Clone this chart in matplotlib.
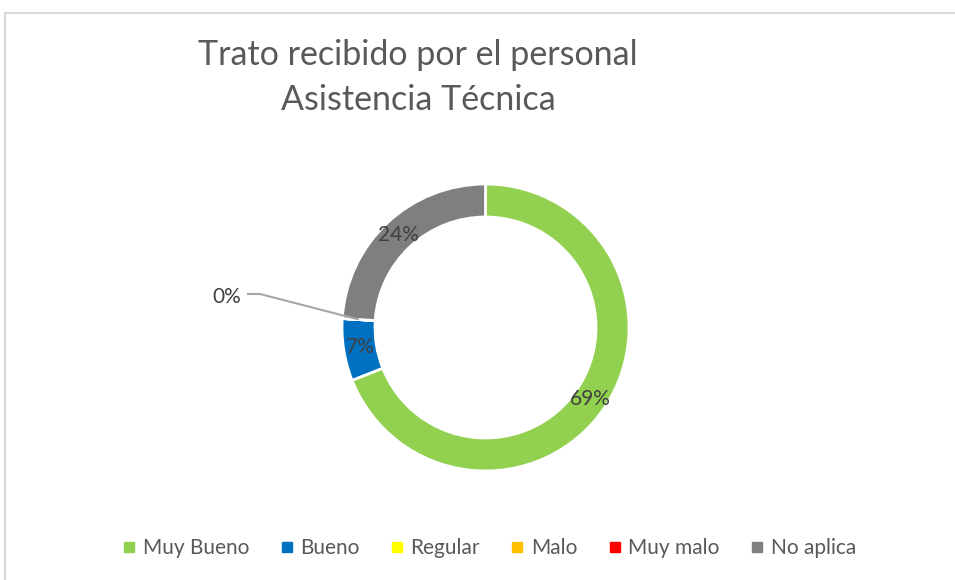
import matplotlib
matplotlib.use("Agg")
import matplotlib.pyplot as plt
from matplotlib.lines import Line2D
import numpy as np

categories = ["Muy Bueno", "Bueno", "Regular", "Malo", "Muy malo", "No aplica"]
values = [69, 7, 0, 0, 0, 24]
colors = ["#92D050", "#0070C0", "#FFFF00", "#FFC000", "#FF0000", "#7F7F7F"]
title_lines = ["Trato recibido por el personal", "Asistencia Técnica"]

plt.rcParams['font.family'] = ['Lato', 'DejaVu Sans']

W, H = 955, 580
fig = plt.figure(figsize=(W / 100, H / 100), dpi=100)
fig.patch.set_facecolor("white")

# frame (top and left edges visible)
fig.add_artist(Line2D([4.5 / W, 4.5 / W], [0, 1 - 12.5 / H], transform=fig.transFigure,
                      color="#D9D9D9", lw=1.5))
fig.add_artist(Line2D([4.5 / W, 1], [1 - 12.5 / H, 1 - 12.5 / H], transform=fig.transFigure,
                      color="#D9D9D9", lw=1.5))

cx, cy, R = 485.5, 327.5, 143.5
ax = fig.add_axes([(cx - R) / W, (H - cy - R) / H, 2 * R / W, 2 * R / H])
ring = 0.23
wedges, _ = ax.pie(values, colors=colors, startangle=90, counterclock=False, radius=1,
                   wedgeprops=dict(width=ring, edgecolor="white", linewidth=2))
ax.set_xlim(-1, 1)
ax.set_ylim(-1, 1)
ax.set_aspect("equal")
ax.axis("off")

rmid = 1 - ring / 2
zero_done = False
for w, v in zip(wedges, values):
    ang = np.deg2rad((w.theta1 + w.theta2) / 2)
    x, y = rmid * np.cos(ang), rmid * np.sin(ang)
    if v > 0:
        ax.text(x, y, f"{v}%", ha="center", va="center", fontsize=15, color="#404040")
    elif not zero_done:
        zero_done = True
        # leader line
        ly = (cy - 294) / R
        x0 = (247 - cx) / R
        x1 = (260 - cx) / R
        ax.plot([x0, x1, x], [ly, ly, y], color="#A6A6A6", lw=1.5, clip_on=False,
                solid_capstyle="butt")
        ax.text((241 - cx) / R, (cy - 297) / R, f"{v}%", ha="right", va="center",
                fontsize=15, color="#404040", clip_on=False)

# title
fig.text(418 / W, 1 - 55 / H, title_lines[0], ha="center", va="center", fontsize=24.5, color="#595959")
fig.text(418 / W, 1 - 100 / H, title_lines[1], ha="center", va="center", fontsize=24.5, color="#595959")

handles = [Line2D([], [], marker="s", linestyle="none", markersize=7, markerfacecolor=c,
                  markeredgecolor=c) for c in colors]
leg = fig.legend(handles, categories, loc="center", bbox_to_anchor=(490 / W, 1 - 548 / H),
                 ncol=6, frameon=False, fontsize=15, labelcolor="#595959",
                 handlelength=0.5, handletextpad=0.4, columnspacing=1.55)

fig.savefig("out.png", dpi=100, facecolor="white")
